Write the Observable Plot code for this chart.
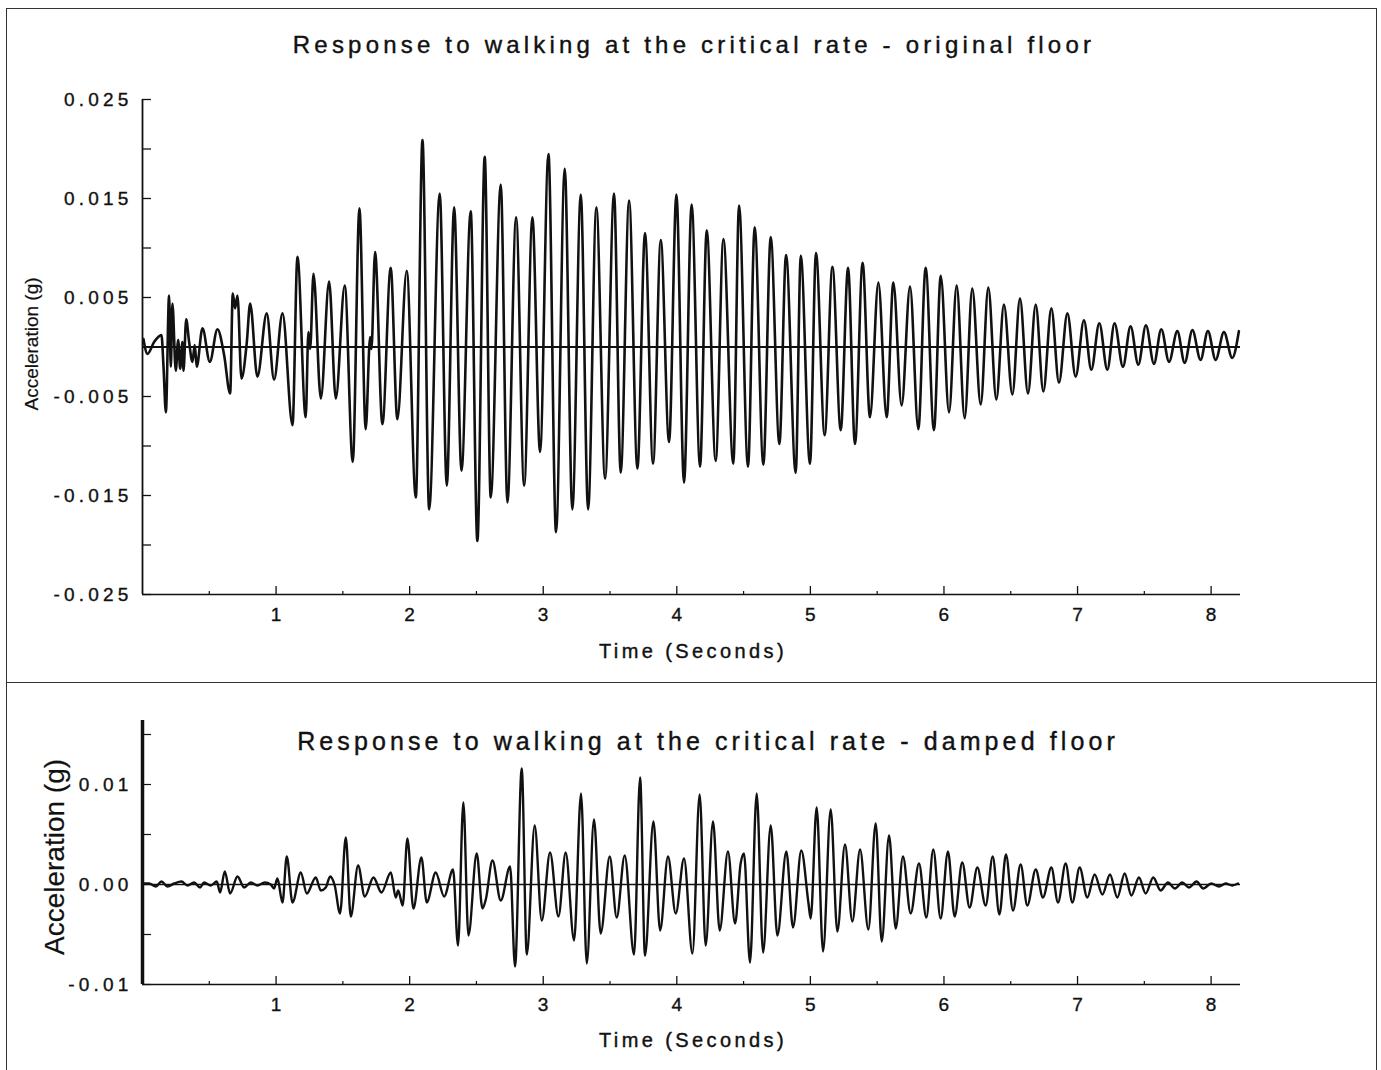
<!DOCTYPE html>
<html>
<head>
<meta charset="utf-8">
<script src="https://cdn.jsdelivr.net/npm/d3@7"></script>
<script src="https://cdn.jsdelivr.net/npm/@observablehq/plot@0.6"></script>
<style>
  html, body { margin: 0; padding: 0; background: #fff; }
  #page { position: relative; width: 1381px; height: 1070px; overflow: hidden; font-family: "Liberation Sans", Arial, sans-serif; color: #111; }
  .frame { position: absolute; left: 6px; top: 8px; width: 1371px; height: 1200px; border: 1.5px solid #333; box-sizing: border-box; }
  .divider { position: absolute; left: 6px; top: 682px; width: 1371px; height: 0; border-top: 1.5px solid #333; }
  .lbl { position: absolute; white-space: nowrap; line-height: 1; transform: translate(-50%, -50%); -webkit-text-stroke: 0.4px #111; }
  .title { font-size: 24px; letter-spacing: 4.2px; }
  .xlab { font-size: 20px; letter-spacing: 3.4px; }
  .ylab { font-family: "Liberation Sans Narrow", "Arial Narrow", "Liberation Sans", sans-serif; font-stretch: condensed; transform: translate(-50%, -50%) rotate(-90deg); -webkit-text-stroke: 0.2px #111; }
  .chart { position: absolute; left: 0; }
  .chart svg text { letter-spacing: 4.2px; stroke: #111; stroke-width: 0.35px; }
</style>
</head>
<body>
<div id="page">
  <div class="frame"></div>
  <div class="divider"></div>
  <div class="lbl title" style="left:694px; top:45px;">Response to walking at the critical rate - original floor</div>
  <div class="lbl xlab" style="left:693px; top:651px;">Time (Seconds)</div>
  <div class="lbl ylab" style="left:31px; top:344px; font-size:19px;">Acceleration (g)</div>
  <div class="lbl title" style="left:708px; top:741px; font-size:25px; letter-spacing:4.1px;">Response to walking at the critical rate - damped floor</div>
  <div class="lbl xlab" style="left:693px; top:1040px;">Time (Seconds)</div>
  <div class="lbl ylab" style="left:55px; top:857px; font-size:28px;">Acceleration (g)</div>
  <div id="top" class="chart" style="top:0px;"></div>
  <div id="bottom" class="chart" style="top:683px;"></div>
</div>
<script>
// ---------- Data: original floor (time in s, acceleration in g) ----------
const origTime1 = [0.007,0.037,0.087,0.142,0.157,0.175,0.199,0.212,0.224,0.249,0.267,0.282,0.299,0.307,0.327,0.349,0.374,0.391,0.406,0.449,0.504,0.561,0.611,0.656,0.676,0.693,0.711,0.741,0.781,0.806,0.860,0.930,0.985,1.048,1.123,1.160,1.222,1.242,1.255,1.280,1.335,1.397,1.447,1.514,1.574,1.624,1.671,1.704,1.714,1.741,1.796,1.858,1.908,1.978,2.046];
const origAcc1  = [0.0008,-0.0007,0.0005,0.0012,-0.0019,-0.0066,0.0052,-0.0020,0.0044,-0.0024,0.0007,-0.0022,0.0005,-0.0024,0.0028,0.0005,-0.0015,0.0002,-0.0020,0.0019,-0.0015,0.0018,-0.0008,-0.0047,0.0054,0.0039,0.0052,-0.0032,0.0005,0.0044,-0.0030,0.0034,-0.0033,0.0034,-0.0079,0.0091,-0.0071,0.0015,-0.0002,0.0074,-0.0052,0.0066,-0.0052,0.0062,-0.0116,0.0140,-0.0083,0.0010,-0.0002,0.0096,-0.0078,0.0080,-0.0073,0.0077,-0.0152];
const origTime2 = [2.096,2.146,2.225,2.278,2.333,2.388,2.457,2.507,2.562,2.607,2.682,2.732,2.797,2.857,2.919,2.976,3.039,3.096,3.161,3.218,3.281,3.336,3.398,3.463,3.530,3.580,3.643,3.705,3.762,3.822,3.880,3.942,3.997,4.054];
const origAcc2  = [0.0209,-0.0164,0.0155,-0.0140,0.0141,-0.0125,0.0137,-0.0196,0.0192,-0.0152,0.0164,-0.0157,0.0131,-0.0140,0.0131,-0.0106,0.0195,-0.0187,0.0180,-0.0164,0.0154,-0.0164,0.0141,-0.0133,0.0155,-0.0127,0.0148,-0.0123,0.0115,-0.0118,0.0108,-0.0096,0.0154,-0.0137];
const origTime3 = [4.111,4.174,4.224,4.291,4.349,4.423,4.466,4.533,4.583,4.648,4.703,4.768,4.818,4.890,4.928,4.997,5.042,5.107,5.165,5.227,5.282,5.334,5.391,5.446,5.509,5.571,5.621,5.683,5.746,5.808,5.863,5.925,5.976,6.038,6.095];
const origAcc3  = [0.0144,-0.0121,0.0118,-0.0115,0.0109,-0.0118,0.0143,-0.0121,0.0121,-0.0119,0.0111,-0.0098,0.0093,-0.0127,0.0092,-0.0118,0.0095,-0.0089,0.0081,-0.0084,0.0080,-0.0098,0.0085,-0.0071,0.0065,-0.0071,0.0065,-0.0059,0.0061,-0.0083,0.0080,-0.0084,0.0072,-0.0066,0.0062];
const origTime4 = [6.155,6.212,6.275,6.332,6.392,6.449,6.512,6.569,6.629,6.687,6.744,6.804,6.861,6.924,6.986,7.048,7.103,7.163,7.223,7.277,7.340,7.397,7.455,7.512,7.572,7.627,7.685,7.747,7.802,7.860,7.921,7.976,8.034,8.096,8.158,8.208];
const origAcc4  = [-0.0072,0.0059,-0.0058,0.0060,-0.0053,0.0043,-0.0048,0.0049,-0.0047,0.0043,-0.0045,0.0039,-0.0036,0.0034,-0.0030,0.0027,-0.0023,0.0024,-0.0023,0.0024,-0.0020,0.0021,-0.0018,0.0022,-0.0017,0.0018,-0.0015,0.0016,-0.0016,0.0017,-0.0013,0.0016,-0.0013,0.0015,-0.0011,0.0016];

// ---------- Data: damped floor ----------
const dampTime1 = [0.007,0.050,0.100,0.142,0.187,0.237,0.292,0.337,0.386,0.431,0.461,0.511,0.556,0.581,0.616,0.656,0.711,0.761,0.811,0.860,0.915,0.960,0.985,1.010,1.048,1.080,1.123,1.185,1.230,1.297,1.335,1.372,1.405,1.439,1.479,1.522,1.559,1.614,1.664,1.729,1.789,1.859,1.896,1.914,1.948,1.983,2.028,2.088,2.128,2.195,2.258,2.325,2.362,2.402,2.440,2.502,2.545,2.570,2.620,2.682,2.752,2.789];
const dampAcc1  = [0.0001,0.0001,-0.0002,0.0003,-0.0002,0.0001,0.0003,-0.0001,0.0002,-0.0003,0.0002,-0.0001,0.0003,-0.0008,0.0013,-0.0009,0.0008,-0.0003,0.0002,-0.0001,0.0002,0.0000,-0.0004,0.0006,-0.0018,0.0028,-0.0018,0.0012,-0.0009,0.0007,-0.0006,-0.0003,0.0008,-0.0001,-0.0029,0.0047,-0.0032,0.0019,-0.0012,0.0007,-0.0008,0.0012,-0.0013,-0.0006,-0.0021,0.0046,-0.0024,0.0027,-0.0018,0.0012,-0.0012,0.0015,-0.0061,0.0082,-0.0051,0.0031,-0.0024,-0.0015,0.0024,-0.0016,0.0018,-0.0082];
const dampTime2 = [2.839,2.877,2.936,2.989,3.051,3.114,3.168,3.231,3.283,3.326,3.380,3.430,3.498,3.550,3.610,3.680,3.725,3.762,3.825,3.875,3.934,3.992,4.054,4.117,4.171,4.216,4.271,4.321,4.383,4.436,4.478,4.503,4.548,4.598,4.646,4.703,4.753,4.820,4.870,4.932,4.985,5.002,5.047,5.095,5.152,5.202,5.259,5.314,5.372,5.434,5.489,5.534];
const dampAcc2  = [0.0116,-0.0070,0.0059,-0.0036,0.0032,-0.0032,0.0032,-0.0056,0.0091,-0.0079,0.0065,-0.0049,0.0028,-0.0033,0.0029,-0.0070,0.0107,-0.0071,0.0063,-0.0046,0.0028,-0.0029,0.0026,-0.0069,0.0090,-0.0061,0.0063,-0.0046,0.0033,-0.0039,0.0021,0.0031,-0.0078,0.0091,-0.0068,0.0059,-0.0051,0.0033,-0.0043,0.0034,-0.0018,-0.0034,0.0077,-0.0067,0.0075,-0.0047,0.0040,-0.0037,0.0035,-0.0045,0.0061,-0.0057];
const dampTime3 = [5.589,5.639,5.693,5.751,5.813,5.868,5.920,5.975,6.030,6.080,6.137,6.192,6.250,6.312,6.365,6.415,6.464,6.517,6.574,6.624,6.687,6.741,6.804,6.854,6.911,6.961,7.016,7.073,7.128,7.186,7.243,7.298,7.353,7.403,7.460,7.510,7.567,7.622,7.677,7.729,7.784,7.834,7.891,7.941,8.001,8.059,8.109,8.158,8.201];
const dampAcc3  = [0.0049,-0.0044,0.0028,-0.0029,0.0021,-0.0033,0.0035,-0.0034,0.0033,-0.0032,0.0022,-0.0023,0.0017,-0.0021,0.0028,-0.0030,0.0030,-0.0026,0.0020,-0.0021,0.0015,-0.0013,0.0017,-0.0018,0.0021,-0.0018,0.0017,-0.0013,0.0010,-0.0010,0.0010,-0.0013,0.0011,-0.0011,0.0007,-0.0009,0.0007,-0.0006,0.0002,-0.0004,0.0002,-0.0003,0.0003,-0.0004,0.0001,-0.0002,0.0001,-0.0001,0.0001];

// ---------- Axis ticks ----------
const timeTicks = [1, 2, 3, 4, 5, 6, 7, 8];
const timeMinorTicks = [0.5, 1.5, 2.5, 3.5, 4.5, 5.5, 6.5, 7.5];
const origYLabels = [-0.025, -0.015, -0.005, 0.005, 0.015, 0.025];
const origYTicks = [-0.025, -0.02, -0.015, -0.01, -0.005, 0, 0.005, 0.01, 0.015, 0.02, 0.025];
const dampYLabels = [-0.01, 0, 0.01];
const dampYTicks = [-0.01, -0.005, 0, 0.005, 0.01, 0.015];

const orig = origTime1.concat(origTime2, origTime3, origTime4)
  .map((t, i) => ({t, a: origAcc1.concat(origAcc2, origAcc3, origAcc4)[i]}));
const damp = dampTime1.concat(dampTime2, dampTime3)
  .map((t, i) => ({t, a: dampAcc1.concat(dampAcc2, dampAcc3)[i]}));

const ink = "#111";
const font = {fontFamily: "'Liberation Sans', Arial, sans-serif", fontSize: "19px", color: ink, background: "transparent", overflow: "visible"};

const topChart = Plot.plot({
  width: 1381, height: 683,
  marginLeft: 142, marginRight: 141, marginTop: 99, marginBottom: 89,
  x: {domain: [0, 8.22]},
  y: {domain: [-0.025, 0.025]},
  style: font,
  marks: [
    Plot.ruleY([0], {stroke: ink, strokeWidth: 2}),
    Plot.line(orig, {x: "t", y: "a", curve: "monotone-x", stroke: ink, strokeWidth: 2.6}),
    Plot.ruleX([0], {stroke: ink, strokeWidth: 1.8}),
    Plot.ruleY([-0.025], {stroke: ink, strokeWidth: 1.6}),
    Plot.axisY({ticks: origYLabels, tickSize: 0, tickPadding: 10, tickFormat: d => d.toFixed(3), label: null}),
    Plot.axisY({ticks: origYTicks, tickSize: -9, tickFormat: () => "", label: null, strokeWidth: 1.3}),
    Plot.axisX({ticks: timeTicks, tickSize: 0, tickPadding: 13, dx: 2, tickFormat: d => String(d), label: null}),
    Plot.axisX({ticks: timeTicks, tickSize: -8, tickFormat: () => "", label: null, strokeWidth: 1.3}),
    Plot.axisX({ticks: timeMinorTicks, tickSize: -3, tickFormat: () => "", label: null, strokeWidth: 1.2})
  ]
});
document.getElementById("top").appendChild(topChart);

const bottomChart = Plot.plot({
  width: 1381, height: 387,
  marginLeft: 142, marginRight: 141, marginTop: 37, marginBottom: 86,
  x: {domain: [0, 8.22]},
  y: {domain: [-0.01, 0.0164]},
  style: font,
  marks: [
    Plot.ruleY([0], {stroke: ink, strokeWidth: 1.6}),
    Plot.line(damp, {x: "t", y: "a", curve: "monotone-x", stroke: ink, strokeWidth: 2.4}),
    Plot.ruleX([0], {stroke: ink, strokeWidth: 3.5}),
    Plot.ruleY([-0.01], {stroke: ink, strokeWidth: 1.6}),
    Plot.axisY({ticks: dampYLabels, tickSize: 0, tickPadding: 10, tickFormat: d => d.toFixed(2), label: null}),
    Plot.axisY({ticks: dampYTicks, tickSize: -9, tickFormat: () => "", label: null, strokeWidth: 1.2}),
    Plot.axisX({ticks: timeTicks, tickSize: 0, tickPadding: 13, dx: 2, tickFormat: d => String(d), label: null}),
    Plot.axisX({ticks: timeTicks, tickSize: -8, tickFormat: () => "", label: null, strokeWidth: 1.3}),
    Plot.axisX({ticks: timeMinorTicks, tickSize: -3, tickFormat: () => "", label: null, strokeWidth: 1.2})
  ]
});
document.getElementById("bottom").appendChild(bottomChart);
</script>
</body>
</html>
